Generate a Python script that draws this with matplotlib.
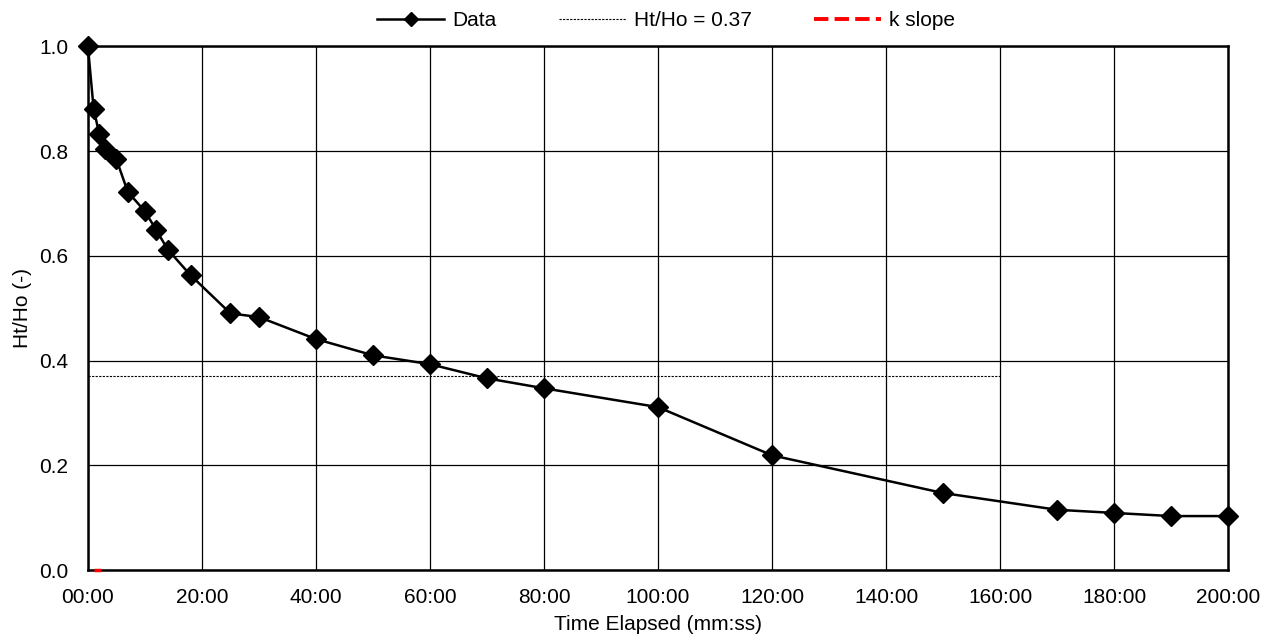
import numpy as np
import matplotlib.pyplot as plt
from matplotlib.lines import Line2D
from matplotlib.ticker import FuncFormatter

plt.rcParams['font.family'] = ['Liberation Sans', 'DejaVu Sans']

# elapsed time in minutes, normalised head ratio
time_min = [0, 1, 2, 3, 5, 7, 10, 12, 14, 18, 25, 30, 40, 50, 60, 70, 80,
            100, 120, 150, 170, 180, 190, 200]
ht_ho = [1.0, 0.881, 0.832, 0.803, 0.784, 0.722, 0.685, 0.649, 0.612, 0.563,
         0.490, 0.483, 0.441, 0.410, 0.393, 0.366, 0.347, 0.311, 0.219,
         0.147, 0.115, 0.109, 0.103, 0.103]

ref_t = [0, 160]
ref_y = [0.37, 0.37]

k_t = [1.0, 2.3]
k_y = [0.0, 0.0]

xticks = np.arange(0, 201, 20)
yticks = np.arange(0, 1.01, 0.2)

fig = plt.figure(figsize=(12.74, 6.43), dpi=100)
ax = fig.add_axes([0.069, 0.1135, 0.895, 0.8145])

ax.plot(time_min, ht_ho, color='black', lw=1.8, marker='D', ms=10,
        clip_on=False, zorder=4)
ax.plot(ref_t, ref_y, color='black', lw=0.8, ls=(0, (2, 1.2)), zorder=3)
ax.plot(k_t, k_y, color='red', lw=2.5, ls='--', clip_on=False, zorder=5)

ax.set_xlim(0, 200)
ax.set_ylim(0, 1.0)
ax.set_xticks(xticks)
ax.set_yticks(yticks)
ax.xaxis.set_major_formatter(FuncFormatter(lambda v, p: '%02d:00' % int(round(v))))
ax.yaxis.set_major_formatter(FuncFormatter(lambda v, p: '%.1f' % v))
ax.tick_params(labelsize=15, length=0)
ax.tick_params(axis='x', pad=13)
ax.tick_params(axis='y', pad=14)
ax.grid(True, color='black', lw=0.9)
ax.set_axisbelow(True)
for s in ax.spines.values():
    s.set_color('black')
    s.set_linewidth(1.8)

ax.set_xlabel('Time Elapsed (mm:ss)', fontsize=15, labelpad=6)
ax.set_ylabel('Ht/Ho (-)', fontsize=15, labelpad=5)

handles = [
    Line2D([], [], color='black', lw=1.8, marker='D', ms=7),
    Line2D([], [], color='black', lw=0.8, ls=(0, (2, 1.2))),
    Line2D([], [], color='red', lw=2.8, ls='--'),
]
labels = ['Data', 'Ht/Ho = 0.37', 'k slope']
fig.legend(handles, labels, loc='upper center', bbox_to_anchor=(0.523, 1.012),
           ncol=3, frameon=False, fontsize=15, handlelength=3.2,
           handletextpad=0.4, columnspacing=3.0)

fig.savefig('out.png', dpi=100)
